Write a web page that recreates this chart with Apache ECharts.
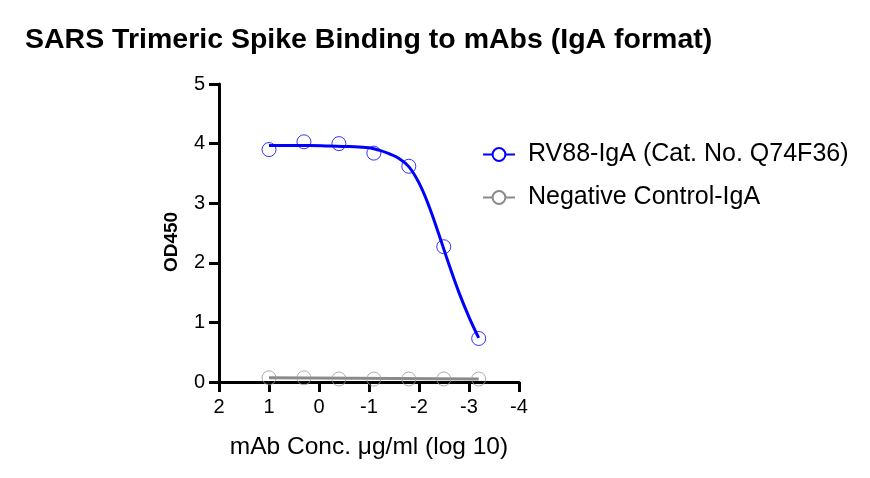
<!DOCTYPE html>
<html>
<head>
<meta charset="utf-8">
<script src="https://cdn.jsdelivr.net/npm/echarts@6/dist/echarts.min.js"></script>
<style>
  html, body { margin: 0; padding: 0; background: #fff; }
  #chart { width: 870px; height: 478px; }
</style>
</head>
<body>
<div id="chart"></div>
<script>
// log10 concentrations (5-fold dilutions)
const logConc = [1, 0.301, -0.398, -1.097, -1.796, -2.495, -3.194];
const rv88Values = [3.90, 4.03, 4.00, 3.84, 3.62, 2.27, 0.73];
const negValues = [0.07, 0.07, 0.05, 0.05, 0.05, 0.05, 0.05];

// fitted curve
const rv88FitX = [1, 0.6, 0.2, -0.2, -0.6, -1.0, -1.2, -1.4, -1.6, -1.8, -2.0, -2.2, -2.4, -2.6, -2.8, -3.0, -3.194];
const rv88FitY = [3.97, 3.97, 3.97, 3.96, 3.95, 3.93, 3.89, 3.83, 3.75, 3.61, 3.34, 2.95, 2.47, 1.97, 1.50, 1.09, 0.74];
const negFitX = [1, -3.194];
const negFitY = [0.07, 0.05];

const pairs = (xs, ys) => xs.map((x, i) => [x, ys[i]]);

const blue = "#0000FF";
const gray = "#8A8A8A";
const font = "Liberation Sans, Arial, sans-serif";

const chart = echarts.init(document.getElementById("chart"), null, { renderer: "canvas" });

chart.setOption({
  animation: false,
  title: {
    text: "SARS Trimeric Spike Binding to mAbs (IgA format)",
    left: 20,
    top: 21,
    textStyle: { fontFamily: font, fontSize: 28.5, fontWeight: "bold", color: "#000" },
  },
  grid: { left: 219, right: 351, top: 84, bottom: 96, containLabel: false },
  legend: {
    left: 477,
    top: 137,
    orient: "vertical",
    itemGap: 18,
    itemWidth: 32,
    itemHeight: 16,
    data: ["RV88-IgA (Cat. No. Q74F36)", "Negative Control-IgA"],
    textStyle: { fontFamily: font, fontSize: 25, color: "#000", padding: [0, 0, 0, 8] },
  },
  xAxis: {
    type: "value",
    inverse: true,
    min: -4,
    max: 2,
    interval: 1,
    name: "mAb Conc. μg/ml (log 10)",
    nameLocation: "middle",
    nameGap: 53,
    nameTextStyle: { fontFamily: font, fontSize: 24.5, color: "#000" },
    axisLine: { onZero: false, lineStyle: { color: "#000", width: 3 } },
    axisTick: { show: true, length: 10, lineStyle: { color: "#000", width: 3 } },
    axisLabel: { fontFamily: font, fontSize: 20, color: "#000", margin: 15 },
    splitLine: { show: false },
  },
  yAxis: {
    type: "value",
    min: 0,
    max: 5,
    interval: 1,
    name: "OD450",
    nameLocation: "middle",
    nameGap: 38,
    nameTextStyle: { fontFamily: font, fontSize: 19, fontWeight: "bold", color: "#000", padding: [0, 18, 0, 0] },
    axisLine: { show: true, onZero: false, lineStyle: { color: "#000", width: 3 } },
    axisTick: { show: true, length: 10, lineStyle: { color: "#000", width: 3 } },
    axisLabel: { fontFamily: font, fontSize: 20, color: "#000", margin: 14 },
    splitLine: { show: false },
  },
  series: [
    {
      name: "RV88-IgA (Cat. No. Q74F36)",
      type: "line",
      smooth: 0.4,
      symbol: "emptyCircle",
      symbolSize: 14,
      showSymbol: false,
      data: pairs(rv88FitX, rv88FitY),
      lineStyle: { color: blue, width: 3 },
      itemStyle: { color: blue, borderColor: blue, borderWidth: 1 },
      z: 2,
    },
    {
      name: "Negative Control-IgA",
      type: "line",
      symbol: "emptyCircle",
      symbolSize: 14,
      showSymbol: false,
      data: pairs(negFitX, negFitY),
      lineStyle: { color: gray, width: 3 },
      itemStyle: { color: gray, borderColor: "#999", borderWidth: 1 },
      z: 2,
    },
    {
      name: "RV88-IgA (Cat. No. Q74F36)",
      type: "scatter",
      symbol: "circle",
      symbolSize: 14,
      data: pairs(logConc, rv88Values),
      itemStyle: { color: "rgba(255,255,255,0)", borderColor: blue, borderWidth: 1 },
      z: 3,
    },
    {
      name: "Negative Control-IgA",
      type: "scatter",
      symbol: "circle",
      symbolSize: 14,
      data: pairs(logConc, negValues),
      itemStyle: { color: "rgba(255,255,255,0)", borderColor: "#999", borderWidth: 1 },
      z: 3,
    },
  ],
});
</script>
</body>
</html>
